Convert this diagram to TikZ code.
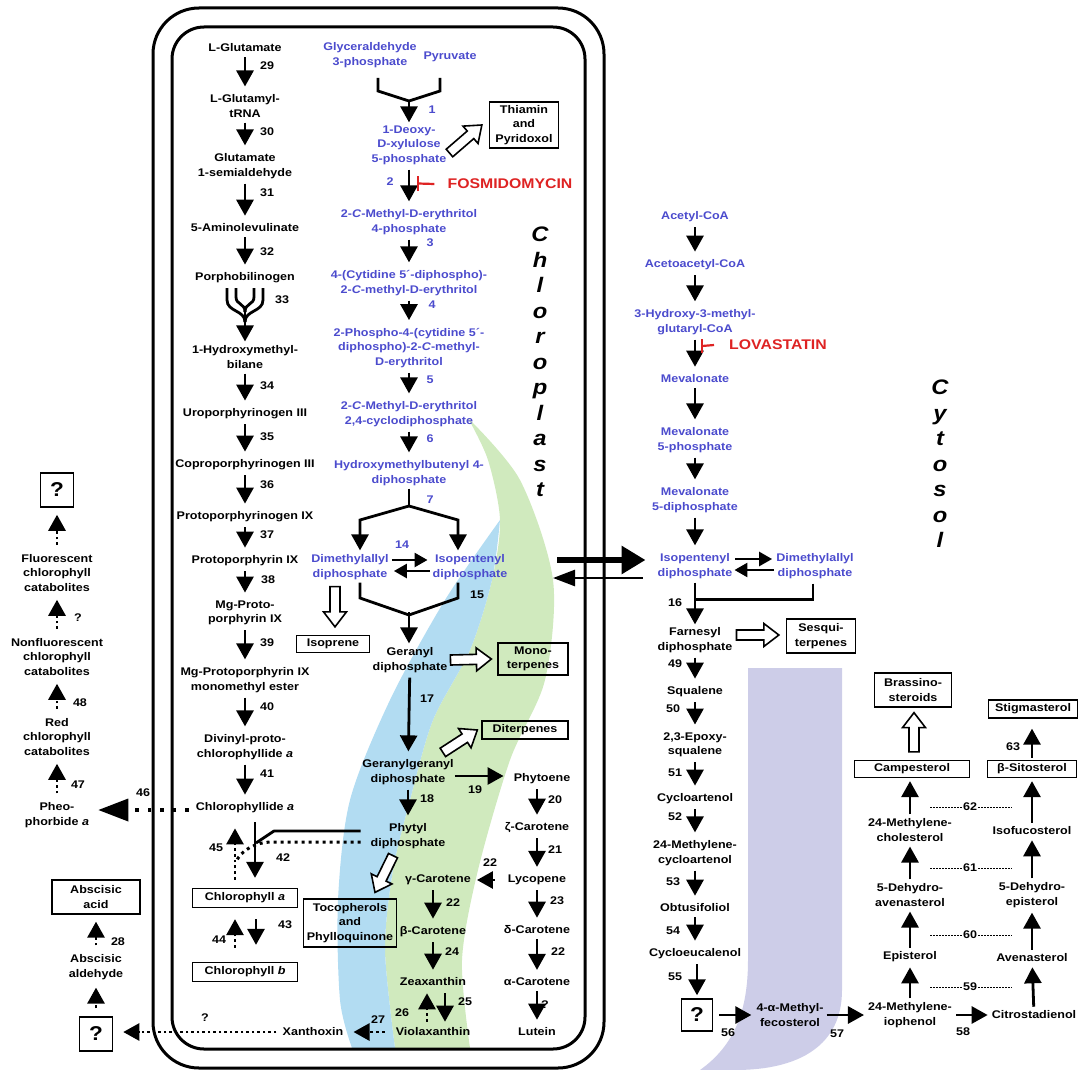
\documentclass[tikz,border=0pt]{standalone}
\usepackage{fontspec}
\setmainfont{Liberation Sans}[FakeStretch=1.13]
\usetikzlibrary{arrows.meta,calc}
\definecolor{mblue}{RGB}{75,75,205}
\definecolor{mred}{RGB}{222,35,35}
\definecolor{arcblue}{RGB}{178,220,242}
\definecolor{arcgreen}{RGB}{208,234,190}
\definecolor{lav}{RGB}{205,205,232}
\newcommand{\myfs}{\fontsize{11.1}{14.5}\selectfont\bfseries}
\newcommand{\hollowarr}[2]{%
  \coordinate (hcA) at ($(#2)!15pt!(#1)$);
  \draw[line width=1.6pt, line join=miter, fill=white]
   ($(#1)!5pt!90:(#2)$) -- ($(hcA)!5pt!90:(#2)$) -- ($(hcA)!11.5pt!90:(#2)$) -- (#2)
   -- ($(hcA)!11.5pt!-90:(#2)$) -- ($(hcA)!5pt!-90:(#2)$) -- ($(#1)!5pt!-90:(#2)$) -- cycle;}
\begin{document}
\begin{tikzpicture}[x=1pt,y=-1pt,
  lbl/.style={font=\myfs, inner sep=1pt, align=center},
  blbl/.style={lbl, text=mblue},
  num/.style={font=\myfs, inner sep=0pt},
  bnum/.style={num, text=mblue},
  bx/.style={lbl, draw, line width=1.3pt, inner sep=2pt},
  qbox/.style={draw, line width=1.5pt, minimum width=33pt, minimum height=34pt, inner sep=0pt, font=\fontsize{20}{21}\selectfont\bfseries},
  ln/.style={line width=2.8pt},
  arrtip/.style={-{Triangle[length=16pt,width=17pt]}},
  arr/.style={ln, arrtip, shorten <=4pt, shorten >=7pt},
  arr0/.style={ln, arrtip},
  dstem/.style={dash pattern=on 2.8pt off 3pt},
  darr/.style={ln, arrtip, dstem, shorten <=8pt, shorten >=7pt},
  darr0/.style={ln, arrtip, dstem},
  eqarr/.style={line width=2.6pt, -{Triangle[length=13pt,width=14pt]}},
  dline/.style={line width=0.9pt, dash pattern=on 2pt off 1pt},
  redtxt/.style={font=\fontsize{14}{15}\selectfont\bfseries, text=mred, inner sep=0pt},
  inh/.style={draw=mred, line width=2.2pt},
  bigtxt/.style={font=\fontsize{21}{25.5}\selectfont\bfseries\itshape, align=center, inner sep=0pt}
  ]
\useasboundingbox (0,0) rectangle (1081,1070);
% ---------- background watermark colours ----------
\fill[lav] (748,668) -- (842,668) -- (842,990) .. controls (842,1045) and (800,1070) .. (735,1070) -- (700,1070) .. controls (735,1045) and (748,1010) .. (748,960) -- cycle;
\fill[arcgreen] plot[smooth] coordinates {(468,418) (520,480) (553,580) (545,680) (510,760) (478,870) (462,960) (470,1048)} -- plot[smooth] coordinates {(395,1048) (385,950) (393,870) (410,800) (433,720) (470,650) (492,580) (500,520) (488,460) (468,418)} -- cycle;
\fill[arcblue] plot[smooth] coordinates {(500,520) (492,580) (470,650) (433,720) (410,800) (393,870) (385,950) (395,1048)} -- plot[smooth] coordinates {(352,1048) (340,1000) (338,900) (350,800) (390,700) (445,600) (500,520)} -- cycle;
% ---------- chloroplast envelope ----------
\draw[line width=3pt, rounded corners=46pt] (153,8) rectangle (604,1068);
\draw[line width=3pt, rounded corners=32pt] (172,27) rectangle (585,1049);
\node[bigtxt] (chlor) at (540,362) {C\\h\\l\\o\\r\\o\\p\\l\\a\\s\\t};
\node[bigtxt] (cyto) at (940,464) {C\\y\\t\\o\\s\\o\\l};
% ---------- far left ----------
\node[qbox] (q1) at (57,490) {?};
\node[lbl] (fcc) at (57,573) {Fluorescent\\chlorophyll\\catabolites};
\node[lbl] (nfcc) at (57,657) {Nonfluorescent\\chlorophyll\\catabolites};
\node[lbl] (rcc) at (57,737) {Red\\chlorophyll\\catabolites};
\node[lbl] (pheo) at (57,815) {Pheo-\\phorbide \textit{a}};
\node[bx, minimum width=88pt, minimum height=34pt] (aba) at (96,897) {Abscisic\\acid};
\node[lbl] (abal) at (96,967) {Abscisic\\aldehyde};
\node[qbox] (q2) at (96,1034) {?};
\node[num] at (78,618) {?};
\node[num] at (80,703) {48};
\node[num] at (78,785) {47};
\node[num] at (143,793) {46};
\node[num] at (118,942) {28};
\draw[darr] (fcc) -- (q1);
\draw[darr] (nfcc) -- (fcc);
\draw[darr] (rcc) -- (nfcc);
\draw[darr] (pheo) -- (rcc);
\draw[darr] (abal) -- (aba);
\draw[darr] (q2) -- (abal);
% ---------- tetrapyrrole column ----------
\node[lbl] (glu) at (245,48) {L-Glutamate};
\node[lbl] (glut) at (245,106) {L-Glutamyl-\\tRNA};
\node[lbl] (gsa) at (245,166) {Glutamate\\1-semialdehyde};
\node[lbl] (ala) at (245,228) {5-Aminolevulinate};
\node[lbl] (pbg) at (245,278) {Porphobilinogen};
\node[lbl] (hmb) at (245,357) {1-Hydroxymethyl-\\bilane};
\node[lbl] (uro) at (245,414) {Uroporphyrinogen III};
\node[lbl] (copro) at (245,465) {Coproporphyrinogen III};
\node[lbl] (protogen) at (245,517) {Protoporphyrinogen IX};
\node[lbl] (proto) at (245,561) {Protoporphyrin IX};
\node[lbl] (mgp) at (245,613) {Mg-Proto-\\porphyrin IX};
\node[lbl] (mgpme) at (245,680) {Mg-Protoporphyrin IX\\monomethyl ester};
\node[lbl] (dvp) at (245,747) {Divinyl-proto-\\chlorophyllide \textit{a}};
\node[lbl] (chlide) at (245,808) {Chlorophyllide \textit{a}};
\node[bx, minimum width=105pt, minimum height=19pt] (chla) at (245,898) {Chlorophyll \textit{a}};
\node[bx, minimum width=105pt, minimum height=19pt] (chlb) at (245,972) {Chlorophyll \textit{b}};
\draw[arr] (glu) -- (glut);
\draw[arr] (glut) -- (gsa);
\draw[arr] (gsa) -- (ala);
\draw[arr] (ala) -- (pbg);
\draw[ln] (227,288) -- (227,300) .. controls (227,312) and (245,310) .. (245,322);
\draw[ln] (263,288) -- (263,300) .. controls (263,312) and (245,310) .. (245,322);
\draw[ln] (236,288) -- (236,297) .. controls (236,305) and (245,303) .. (245,312);
\draw[ln] (254,288) -- (254,297) .. controls (254,305) and (245,303) .. (245,312);
\coordinate (f33) at (245,306);
\draw[arr0] (f33) -- ($(hmb.north)+(0,-3)$);
\draw[arr] (hmb) -- (uro);
\draw[arr] (uro) -- (copro);
\draw[arr] (copro) -- (protogen);
\draw[arr] (protogen) -- (proto);
\draw[arr] (proto) -- (mgp);
\draw[arr] (mgp) -- (mgpme);
\draw[arr] (mgpme) -- (dvp);
\draw[arr] (dvp) -- (chlide);
\node[num] at (267,66) {29};
\node[num] at (267,132) {30};
\node[num] at (267,193) {31};
\node[num] at (267,252) {32};
\node[num] at (282,300) {33};
\node[num] at (267,386) {34};
\node[num] at (267,437) {35};
\node[num] at (267,485) {36};
\node[num] at (267,535) {37};
\node[num] at (268,580) {38};
\node[num] at (267,643) {39};
\node[num] at (267,707) {40};
\node[num] at (267,774) {41};
% chlorophyll cycle
\draw[darr0] ($(chla.north)+(-10,-8)$) -- ($(chlide.south)+(-10,14)$);
\draw[arr0] ($(chlide.south)+(10,8)$) -- ($(chla.north)+(10,-10)$);
\draw[darr0] ($(chlb.north)+(-10,-14)$) -- ($(chla.south)+(-10,11)$);
\draw[arr0] ($(chla.south)+(11,11)$) -- ($(chlb.north)+(11,-17)$);
\node[num] at (216,848) {45};
\node[num] at (283,858) {42};
\node[num] at (219,940) {44};
\node[num] at (285,925) {43};
% ---------- MEP pathway ----------
\node[blbl] (ga3p) at (370,55) {Glyceraldehyde\\3-phosphate};
\node[blbl] (pyr) at (450,57) {Pyruvate};
\node[blbl] (dxp) at (409,145) {1-Deoxy-\\D-xylulose\\5-phosphate};
\node[bx, minimum width=69pt, minimum height=46pt] (thia) at (524,125) {Thiamin\\and\\Pyridoxol};
\node[blbl] (mep) at (409,222) {2-\textit{C}-Methyl-D-erythritol\\4-phosphate};
\node[blbl] (cdpme) at (409,283) {4-(Cytidine 5´-diphospho)-\\2-\textit{C}-methyl-D-erythritol};
\node[blbl] (cdpmep) at (409,348) {2-Phospho-4-(cytidine 5´-\\diphospho)-2-\textit{C}-methyl-\\D-erythritol};
\node[blbl] (mecpp) at (409,414) {2-\textit{C}-Methyl-D-erythritol\\2,4-cyclodiphosphate};
\node[blbl] (hmbpp) at (409,473) {Hydroxymethylbutenyl 4-\\diphosphate};
\node[blbl] (dmapp) at (350,567) {Dimethylallyl\\diphosphate};
\node[blbl] (ipp) at (470,567) {Isopentenyl\\diphosphate};
\node[redtxt] (fos) at (510,184) {FOSMIDOMYCIN};
\draw[ln] (378,78) -- (378,91) -- (409,101) -- (440,91) -- (440,78);
\coordinate (f1) at (409,100);
\draw[arr0] (f1) -- ($(dxp.north)+(0,-2)$);
\coordinate (ha1) at ($(dxp.east)+(2,8)$);
\coordinate (hb1) at ($(thia.west)+(-7,0)$);
\hollowarr{ha1}{hb1}
\draw[arr] (dxp) -- (mep);
\draw[inh] (418,176) -- (418,191);
\draw[inh] (418,183.5) -- ($(fos.west)+(-13,0)$);
\draw[arr] (mep) -- (cdpme);
\draw[arr] (cdpme) -- (cdpmep);
\draw[arr] (cdpmep) -- (mecpp);
\draw[arr] (mecpp) -- (hmbpp);
\draw[ln] ($(hmbpp.south)+(0,2)$) -- (409,507);
\draw[arr0] (409,506) -- (360,520) -- ($(dmapp.north)+(10,-3)$);
\draw[arr0] (409,506) -- (458,520) -- ($(ipp.north)+(-12,-3)$);
\draw[eqarr] ($(dmapp.east)+(2,-7)$) -- ($(ipp.west)+(-4,-7)$);
\draw[eqarr] ($(ipp.west)+(-2,4)$) -- ($(dmapp.east)+(4,4)$);
\node[bnum] at (432,110) {1};
\node[bnum] at (390,182) {2};
\node[bnum] at (430,243) {3};
\node[bnum] at (432,305) {4};
\node[bnum] at (430,380) {5};
\node[bnum] at (430,439) {6};
\node[bnum] at (430,500) {7};
\node[bnum] at (402,545) {14};
% isoprenoids in plastid
\node[bx, minimum width=73pt, minimum height=17pt] (isop) at (333,644) {Isoprene};
\node[lbl] (gpp) at (410,660) {Geranyl\\diphosphate};
\node[bx, minimum width=70pt, minimum height=32pt] (mono) at (533,659) {Mono-\\terpenes};
\node[lbl] (ggpp) at (408,772) {Geranylgeranyl\\diphosphate};
\node[bx, minimum width=86pt, minimum height=18pt] (diterp) at (525,730) {Diterpenes};
\node[lbl] (phytyl) at (408,836) {Phytyl\\diphosphate};
\node[bx, minimum width=93pt, minimum height=48pt] (toco) at (350,923) {Tocopherols\\and\\Phylloquinone};
\draw[ln] ($(dmapp.south)+(10,2)$) -- (360,598) -- (409,615) -- (458,598) -- ($(ipp.south)+(-12,2)$);
\coordinate (f15) at (409,612);
\draw[arr0] (f15) -- ($(gpp.north)+(-1,-3)$);
\node[num] at (477,595) {15};
\coordinate (ha2) at ($(dmapp.south)+(-15,6)$);
\coordinate (hb2) at ($(isop.north)+(2,-8)$);
\hollowarr{ha2}{hb2}
\coordinate (ha3) at ($(gpp.east)+(2,0)$);
\coordinate (hb3) at ($(mono.west)+(-6,0)$);
\hollowarr{ha3}{hb3}
\draw[arr] (gpp) -- (ggpp);
\node[num] at (427,699) {17};
\coordinate (ha4) at ($(ggpp.north east)+(-12,-6)$);
\coordinate (hb4) at ($(diterp.west)+(-4,0)$);
\hollowarr{ha4}{hb4}
\draw[arr] (ggpp) -- (phytyl);
\node[num] at (427,799) {18};
\coordinate (ha5) at ($(phytyl.south)+(-15,6)$);
\coordinate (hb5) at ($(toco.north)+(25,-6)$);
\hollowarr{ha5}{hb5}
% phytol links to chlorophyll
\draw[ln, line join=round] ($(phytyl.west)+(-9,-5)$) -- (274,831) -- (256,843);
\draw[line width=3pt, dash pattern=on 3pt off 4pt] ($(phytyl.west)+(-9,6)$) -- (272,842) .. controls (256,842) and (241,850) .. (236,862);
% carotenoids
\node[lbl] (phyt) at (542,779) {Phytoene};
\node[lbl] (zcar) at (537,828) {ζ-Carotene};
\node[lbl] (lyc) at (537,880) {Lycopene};
\node[lbl] (dcar) at (537,930) {δ-Carotene};
\node[lbl] (acar) at (537,982) {α-Carotene};
\node[lbl] (lut) at (537,1032) {Lutein};
\node[lbl] (gcar) at (438,880) {γ-Carotene};
\node[lbl] (bcar) at (433,932) {β-Carotene};
\node[lbl] (zea) at (433,982) {Zeaxanthin};
\node[lbl] (viola) at (433,1032) {Violaxanthin};
\node[lbl] (xanth) at (313,1032) {Xanthoxin};
\draw[arr0] ($(ggpp.east)+(0,4)$) -- ($(phyt.west)+(-9,-3)$);
\node[num] at (475,790) {19};
\draw[arr] (phyt.south -| zcar.north) -- (zcar);
\draw[arr] (zcar) -- (lyc);
\draw[arr] (lyc) -- (dcar);
\draw[arr] (dcar) -- (acar);
\draw[arr] (acar) -- (lut);
\draw[arr, shorten <=12pt, shorten >=5pt] (lyc) -- (gcar);
\draw[arr] (gcar.south -| bcar.north) -- (bcar);
\draw[arr] (bcar) -- (zea);
\draw[darr0] ($(viola.north)+(-6,-5)$) -- ($(zea.south)+(-6,6)$);
\draw[arr0] ($(zea.south)+(12,6)$) -- ($(viola.north)+(12,-5)$);
\draw[darr0] ($(viola.west)+(-10,0)$) -- ($(xanth.east)+(9,0)$);
\draw[line width=2.5pt, dash pattern=on 2.5pt off 3pt, arrtip, shorten <=5pt, shorten >=10pt] (xanth.west) -- (xanth.west -| q2.east);
\draw[line width=3.5pt, dash pattern=on 3.5pt off 9pt, -{Triangle[length=30pt,width=22pt]}] ($(chlide.west)+(-6,2)$) -- ($(pheo.east)+(8,-5)$);
\node[num] at (555,800) {20};
\node[num] at (555,850) {21};
\node[num] at (490,863) {22};
\node[num] at (557,901) {23};
\node[num] at (453,903) {22};
\node[num] at (558,952) {22};
\node[num] at (452,952) {24};
\node[num] at (545,1005) {?};
\node[num] at (465,1002) {25};
\node[num] at (402,1013) {26};
\node[num] at (378,1020) {27};
\node[num] at (205,1018) {?};
% ---------- cytosol MVA ----------
\node[blbl] (acoa) at (695,217) {Acetyl-CoA};
\node[blbl] (aacoa) at (695,265) {Acetoacetyl-CoA};
\node[blbl] (hmg) at (695,322) {3-Hydroxy-3-methyl-\\glutaryl-CoA};
\node[blbl] (mva) at (695,379) {Mevalonate};
\node[blbl] (mvap) at (695,440) {Mevalonate\\5-phosphate};
\node[blbl] (mvapp) at (695,500) {Mevalonate\\5-diphosphate};
\node[blbl] (ippC) at (695,566) {Isopentenyl\\diphosphate};
\node[blbl] (dmappC) at (815,566) {Dimethylallyl\\diphosphate};
\node[redtxt] (lova) at (778,345) {LOVASTATIN};
\draw[arr] (acoa) -- (aacoa);
\draw[arr] (aacoa) -- (hmg);
\draw[arr] (hmg) -- (mva);
\draw[inh] (702,339) -- (702,353);
\draw[inh] (702,346) -- ($(lova.west)+(-15,0)$);
\draw[arr] (mva) -- (mvap);
\draw[arr] (mvap) -- (mvapp);
\draw[arr] (mvapp) -- (ippC);
\draw[eqarr] ($(ippC.east)+(2,-7)$) -- ($(dmappC.west)+(-3,-7)$);
\draw[eqarr] ($(dmappC.west)+(-1,4)$) -- ($(ippC.east)+(1,4)$);
% exchange across envelope
\coordinate (xa) at (557,560);
\draw[line width=6.5pt, -{Triangle[length=24pt,width=27pt]}] (xa) -- ($(ippC.west)+(-11,-6)$);
\coordinate (xb) at (553,578);
\draw[line width=2.6pt, -{Triangle[length=22pt,width=16pt]}] ($(ippC.west)+(-14,12)$) -- (xb);
% sesquiterpenes & sterols
\node[lbl] (fpp) at (695,640) {Farnesyl\\diphosphate};
\node[bx, minimum width=69pt, minimum height=34pt] (sesq) at (821,636) {Sesqui-\\terpenes};
\draw[ln] ($(dmappC.south)+(-2,4)$) |- ($(ippC.south)+(0,20)$);
\draw[arr0] ($(ippC.south)+(0,3)$) -- ($(fpp.north)+(0,-2)$);
\node[num] at (675,603) {16};
\coordinate (ha6) at ($(fpp.east)+(3,-5)$);
\coordinate (hb6) at ($(sesq.west)+(-7,-1)$);
\hollowarr{ha6}{hb6}
\node[lbl] (squa) at (695,692) {Squalene};
\node[lbl] (epox) at (695,745) {2,3-Epoxy-\\squalene};
\node[lbl] (cart) at (695,799) {Cycloartenol};
\node[lbl] (mcart) at (695,853) {24-Methylene-\\cycloartenol};
\node[lbl] (obtu) at (695,908) {Obtusifoliol};
\node[lbl] (ceuc) at (695,954) {Cycloeucalenol};
\node[qbox, minimum width=31pt, minimum height=32pt] (q3) at (697,1015) {?};
\draw[arr] (fpp) -- (squa);
\draw[arr] (squa) -- (epox);
\draw[arr] (epox) -- (cart);
\draw[arr] (cart) -- (mcart);
\draw[arr] (mcart) -- (obtu);
\draw[arr] (obtu) -- (ceuc);
\draw[arr, shorten >=3pt] (ceuc.south -| q3.north) -- (q3);
\node[num] at (675,664) {49};
\node[num] at (673,709) {50};
\node[num] at (675,773) {51};
\node[num] at (675,817) {52};
\node[num] at (673,882) {53};
\node[num] at (673,931) {54};
\node[num] at (675,977) {55};
\node[lbl] (mfeco) at (790,1015) {4-α-Methyl-\\fecosterol};
\node[lbl] (mip) at (910,1015) {24-Methylene-\\iophenol};
\node[lbl] (citro) at (1034,1015) {Citrostadienol};
\draw[arr, shorten <=6pt, shorten >=4pt] (q3) -- (mfeco);
\draw[arr, shorten <=2pt, shorten >=3pt] (mfeco) -- (mip);
\draw[arr, shorten <=3pt, shorten >=3pt] (mip) -- (citro);
\node[num] at (728,1033) {56};
\node[num] at (837,1034) {57};
\node[num] at (963,1032) {58};
\node[lbl] (epi) at (910,957) {Episterol};
\node[lbl] (aven) at (1032,958) {Avenasterol};
\node[lbl] (dav) at (910,895) {5-Dehydro-\\avenasterol};
\node[lbl] (dep) at (1032,895) {5-Dehydro-\\episterol};
\node[lbl] (mchol) at (910,830) {24-Methylene-\\cholesterol};
\node[lbl] (isof) at (1032,831) {Isofucosterol};
\node[bx, minimum width=115pt, minimum height=17pt] (camp) at (912,769) {Campesterol};
\node[bx, minimum width=89pt, minimum height=17pt] (sito) at (1032,769) {β-Sitosterol};
\node[bx, minimum width=77pt, minimum height=34pt] (brass) at (913,690) {Brassino-\\steroids};
\node[bx, minimum width=89pt, minimum height=18pt] (stig) at (1033,709) {Stigmasterol};
\draw[arr, shorten <=3pt, shorten >=4pt] (mip) -- (epi);
\draw[arr, shorten <=3pt, shorten >=4pt] (citro) -- (aven);
\draw[arr, shorten <=3pt, shorten >=4pt] (epi) -- (dav);
\draw[arr, shorten <=3pt, shorten >=4pt] (aven) -- (dep);
\draw[arr, shorten <=3pt, shorten >=4pt] (dav) -- (mchol);
\draw[arr, shorten <=3pt, shorten >=4pt] (dep) -- (isof);
\draw[arr, shorten <=3pt, shorten >=3pt] (mchol.north) -- (mchol.north |- camp.south);
\draw[arr, shorten <=3pt, shorten >=3pt] (isof) -- (sito);
\draw[arr, shorten <=2pt, shorten >=10pt] (sito.north) -- (sito.north |- stig.south);
\node[num] at (1013,747) {63};
\coordinate (ha7) at ($(camp.north)+(2,-8)$);
\coordinate (hb7) at ($(brass.south)+(1,5)$);
\hollowarr{ha7}{hb7}
\foreach \yy/\nn in {987/59, 935/60, 868/61, 807/62}{
  \draw[dline] (930,\yy) -- (1012,\yy);
  \node[num, fill=white, inner sep=1pt] at (970,\yy) {\nn};
}
\end{tikzpicture}
\end{document}
